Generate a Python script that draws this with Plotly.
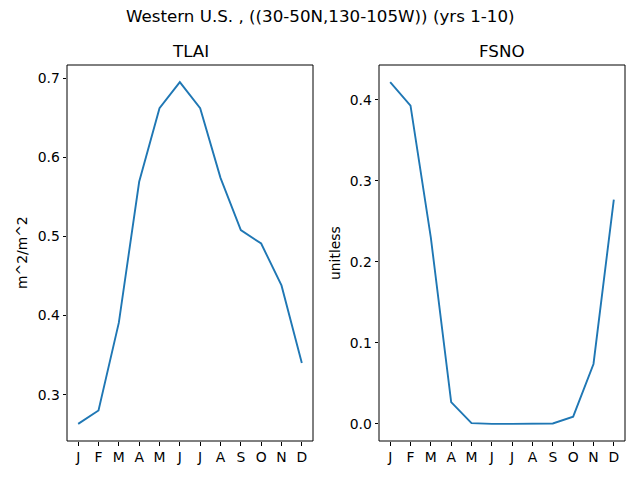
import plotly.graph_objects as go

months = ['J', 'F', 'M', 'A', 'M', 'J', 'J', 'A', 'S', 'O', 'N', 'D']
tlai = [0.263, 0.280, 0.391, 0.569, 0.662, 0.695, 0.662, 0.574, 0.508, 0.491, 0.438, 0.340]
fsno = [0.422, 0.393, 0.230, 0.027, 0.001, 0.0, 0.0, 0.0, 0.0005, 0.009, 0.074, 0.277]

idx = list(range(len(months)))
blue = '#1f77b4'
font = dict(family='DejaVu Sans', size=13.9, color='black')
tfont = dict(family='DejaVu Sans', size=16.7, color='black')

fig = go.Figure()
fig.add_trace(go.Scatter(x=idx, y=tlai, mode='lines', line=dict(color=blue, width=1.9),
                         xaxis='x', yaxis='y', showlegend=False))
fig.add_trace(go.Scatter(x=idx, y=fsno, mode='lines', line=dict(color=blue, width=1.9),
                         xaxis='x2', yaxis='y2', showlegend=False))

def lo(vals):
    span = max(vals) - min(vals)
    return [min(vals) - 0.05 * span, max(vals) + 0.05 * span]

ax = dict(showgrid=False, zeroline=False, showline=False,
          ticks='outside', ticklen=3.5, tickcolor='black', tickfont=font)

ydom = [39 / 480, 415 / 480]
xd1 = [67 / 640, 313 / 640]
xd2 = [379 / 640, 625 / 640]

# axes frames
frames = [dict(type='rect', xref='paper', yref='paper', x0=d[0], x1=d[1], y0=ydom[0], y1=ydom[1],
               line=dict(color='black', width=1), layer='above') for d in (xd1, xd2)]

fig.update_layout(
    width=640, height=480,
    margin=dict(l=0, r=0, t=0, b=0),
    plot_bgcolor='white', paper_bgcolor='white',
    font=font,
    shapes=frames,
    xaxis=dict(ax, domain=xd1, range=[-0.55, 11.55],
               tickvals=idx, ticktext=months, anchor='y'),
    yaxis=dict(ax, domain=ydom, range=lo(tlai), tickvals=[0.3, 0.4, 0.5, 0.6, 0.7],
               tickformat='.1f', anchor='x'),
    xaxis2=dict(ax, domain=xd2, range=[-0.55, 11.55],
                tickvals=idx, ticktext=months, anchor='y2'),
    yaxis2=dict(ax, domain=ydom, range=lo(fsno), tickvals=[0.0, 0.1, 0.2, 0.3, 0.4],
                tickformat='.1f', anchor='x2'),
    annotations=[
        dict(text='Western U.S. , ((30-50N,130-105W)) (yrs 1-10)', x=0.5, y=1 - 16 / 480,
             xref='paper', yref='paper', showarrow=False, xanchor='center', yanchor='middle',
             font=tfont),
        dict(text='TLAI', x=190 / 640, y=1 - 51 / 480, xref='paper', yref='paper',
             showarrow=False, xanchor='center', yanchor='middle', font=tfont),
        dict(text='FSNO', x=502 / 640, y=1 - 51 / 480, xref='paper', yref='paper',
             showarrow=False, xanchor='center', yanchor='middle', font=tfont),
        dict(text='m^2/m^2', x=22 / 640, y=1 - 253 / 480, xref='paper', yref='paper',
             showarrow=False, textangle=-90, xanchor='center', yanchor='middle', font=font),
        dict(text='unitless', x=335 / 640, y=1 - 253 / 480, xref='paper', yref='paper',
             showarrow=False, textangle=-90, xanchor='center', yanchor='middle', font=font),
    ],
)

fig.write_html('out.html', config={'displayModeBar': False},
               post_script="document.body.style.margin='0';")
